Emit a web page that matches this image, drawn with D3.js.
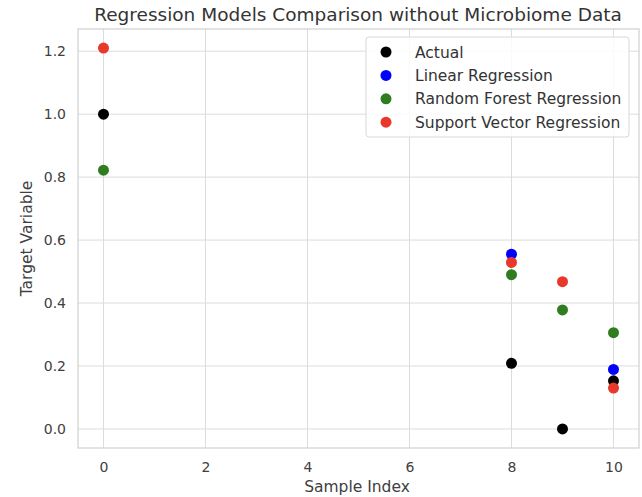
<!DOCTYPE html>
<html><head><meta charset="utf-8">
<script src="https://cdn.jsdelivr.net/npm/d3@7"></script>
<style>body{margin:0;background:#fff;} text{font-family:"DejaVu Sans",sans-serif;}</style>
</head><body><svg id="c" width="642" height="497"></svg>
<script>
const sampleIndex = [0, 8, 9, 10];
const actual = [1.0, 0.2085, 0.0, 0.153];
// null = hidden behind another marker in the reference
const linearReg = [null, 0.555, null, 0.189];
const randomForest = [0.822, 0.490, 0.378, 0.306];
const svr = [1.21, 0.529, 0.468, 0.130];
const seriesNames = ["Actual", "Linear Regression", "Random Forest Regression", "Support Vector Regression"];
const seriesColors = ["#000000", "#0000ff", "#2f7d1f", "#e8372b"];
const xTicks = [0, 2, 4, 6, 8, 10];
const yTicks = [0.0, 0.2, 0.4, 0.6, 0.8, 1.0, 1.2];

const svg = d3.select("#c");
const L = 78, R = 639, T = 29, B = 448;
const x = d3.scaleLinear().domain([-0.5, 10.5]).range([L, R]);
const y = d3.scaleLinear().domain([-0.0605, 1.2705]).range([B, T]);

// grid
svg.append("g").selectAll("line").data(xTicks).join("line")
  .attr("x1", d => x(d)).attr("x2", d => x(d)).attr("y1", T).attr("y2", B)
  .attr("stroke", "#dcdcdc").attr("stroke-width", 1);
svg.append("g").selectAll("line").data(yTicks).join("line")
  .attr("x1", L).attr("x2", R).attr("y1", d => y(d)).attr("y2", d => y(d))
  .attr("stroke", "#dcdcdc").attr("stroke-width", 1);
svg.append("rect").attr("x", L).attr("y", T).attr("width", R - L).attr("height", B - T)
  .attr("fill", "none").attr("stroke", "#d0d0d0").attr("stroke-width", 1.2);

// axes
const xAxis = d3.axisBottom(x).tickValues(xTicks).tickSize(0).tickPadding(14).tickFormat(d3.format("d"));
const gx = svg.append("g").attr("transform", `translate(0,${B})`).call(xAxis);
gx.select(".domain").remove();
gx.selectAll("text").attr("fill", "#404040").style("font-size", "14px");
const yAxis = d3.axisLeft(y).tickValues(yTicks).tickSize(0).tickPadding(12).tickFormat(d3.format(".1f"));
const gy = svg.append("g").attr("transform", `translate(${L},0)`).call(yAxis);
gy.select(".domain").remove();
gy.selectAll("text").attr("fill", "#404040").style("font-size", "14px");

// labels
svg.append("text").attr("x", 358).attr("y", 21).attr("text-anchor", "middle")
  .attr("fill", "#333").style("font-size", "18.5px").text("Regression Models Comparison without Microbiome Data");
svg.append("text").attr("x", 357).attr("y", 492).attr("text-anchor", "middle")
  .attr("fill", "#404040").style("font-size", "15.5px").text("Sample Index");
svg.append("text").attr("transform", `translate(32,${(T + B) / 2}) rotate(-90)`).attr("text-anchor", "middle")
  .attr("fill", "#404040").style("font-size", "15.5px").text("Target Variable");

// points
const allSeries = [actual, linearReg, randomForest, svr];
allSeries.forEach((vals, i) => {
  const pts = vals.map((v, j) => ({x: sampleIndex[j], v})).filter(p => p.v !== null);
  svg.append("g").selectAll("circle").data(pts).join("circle")
    .attr("cx", d => x(d.x)).attr("cy", d => y(d.v)).attr("r", 5.5)
    .attr("fill", seriesColors[i]);
});

// legend
const lg = svg.append("g");
lg.append("rect").attr("x", 366).attr("y", 37).attr("width", 263).attr("height", 100).attr("rx", 3)
  .attr("fill", "rgba(255,255,255,0.85)").attr("stroke", "#d8d8d8");
seriesNames.forEach((n, i) => {
  const yy = 52 + i * 23.4;
  lg.append("circle").attr("cx", 386).attr("cy", yy).attr("r", 5.5).attr("fill", seriesColors[i]);
  lg.append("text").attr("x", 415).attr("y", yy + 5.5).attr("fill", "#333").style("font-size", "15.5px").text(n);
});
</script></body></html>
